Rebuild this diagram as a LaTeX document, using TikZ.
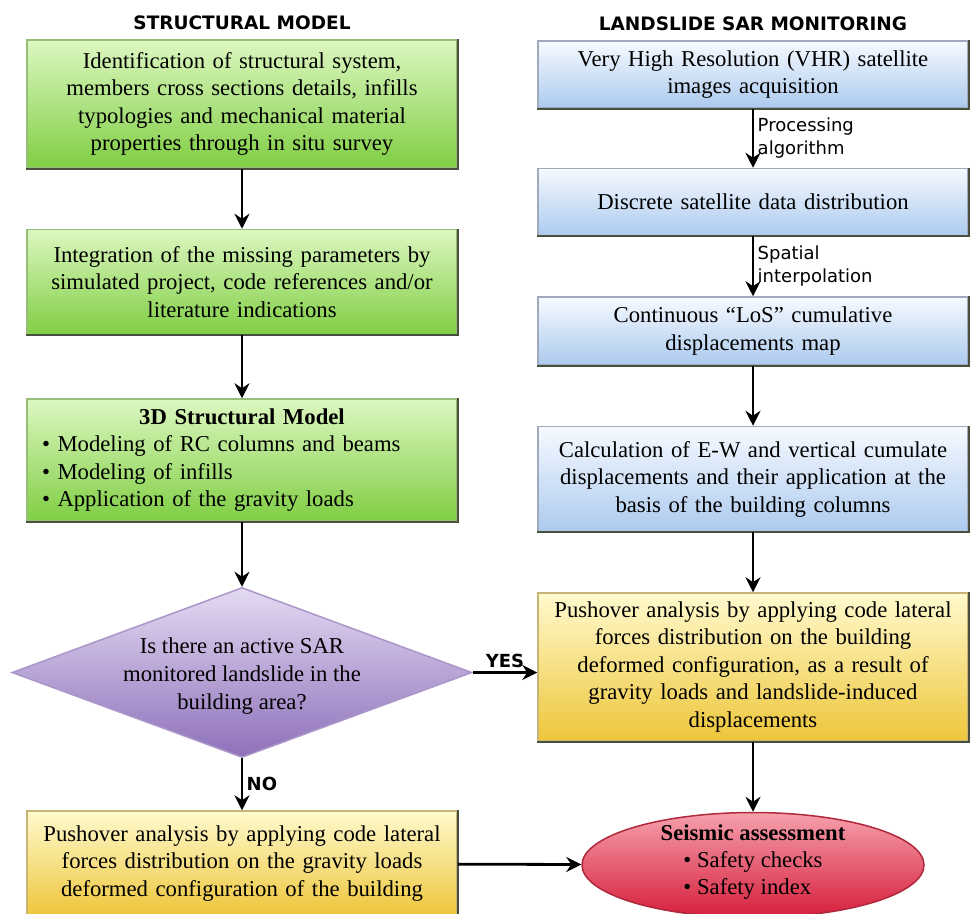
\documentclass[tikz,border=0pt]{standalone}
\usepackage{fontspec}
\setmainfont{Liberation Serif}
\newfontfamily\labelfont{DejaVu Sans}
\usepackage{xcolor}
\usetikzlibrary{shapes.geometric, arrows.meta, positioning}
\tikzstyle{arrow} = [line width=2.8pt,->,>={Stealth[length=15pt,width=15pt,inset=5pt]}]

\definecolor{grnTop}{RGB}{220,247,192}
\definecolor{grnBot}{RGB}{128,206,68}
\definecolor{grnLine}{RGB}{150,190,120}
\definecolor{bluTop}{RGB}{246,250,255}
\definecolor{bluBot}{RGB}{172,202,238}
\definecolor{bluLine}{RGB}{160,170,190}
\definecolor{ylwTop}{RGB}{255,250,206}
\definecolor{ylwBot}{RGB}{238,198,58}
\definecolor{ylwLine}{RGB}{200,180,120}
\definecolor{prpTop}{RGB}{228,218,242}
\definecolor{prpBot}{RGB}{142,112,186}
\definecolor{prpLine}{RGB}{170,150,200}
\definecolor{redTop}{RGB}{246,160,172}
\definecolor{redMid}{RGB}{234,76,100}
\definecolor{redBot}{RGB}{214,30,60}
\definecolor{redLine}{RGB}{176,40,60}
\definecolor{bevel}{RGB}{70,80,60}

\begin{document}
\begin{tikzpicture}[x=1pt, y=-1pt, node distance=60pt,
    box/.style={rectangle, minimum width=430pt, text width=420pt, align=center, inner sep=0pt, line width=1.5pt, font=\fontsize{22.7}{27.5}\selectfont},
    greenbox/.style={box, top color=grnTop, bottom color=grnBot, draw=grnLine},
    bluebox/.style={box, top color=bluTop, bottom color=bluBot, draw=bluLine},
    yellowbox/.style={box, top color=ylwTop, bottom color=ylwBot, draw=ylwLine},
    check/.style={diamond, aspect=2.7, minimum width=460pt, minimum height=170pt, inner sep=-6pt, align=center, line width=1.5pt, top color=prpTop, bottom color=prpBot, draw=prpLine, font=\fontsize{22.7}{28}\selectfont},
    assess/.style={ellipse, minimum width=342pt, minimum height=105pt, inner xsep=0pt, inner ysep=-8pt, align=center, line width=1.5pt, top color=redTop, middle color=redMid, bottom color=redBot, draw=redLine, font=\fontsize{22.7}{27}\selectfont},
    title/.style={font=\labelfont\bfseries\fontsize{18.5}{22}\selectfont},
    tag/.style={font=\labelfont\fontsize{18}{23}\selectfont, align=left},
    answer/.style={font=\labelfont\bfseries\fontsize{18}{22}\selectfont}]

    \useasboundingbox (0,0) rectangle (971,913);

    % Structural model
    \node[greenbox, minimum height=128pt] (survey) at (242,104) {Identification of structural system,\\members cross sections details, infills\\typologies and mechanical material\\properties through in situ survey};
    \node[greenbox, minimum height=105pt, below=of survey] (missing) {Integration of the missing parameters by\\simulated project, code references and/or\\literature indications};
    \node[greenbox, minimum height=122pt, text width=400pt, align=left, below=63pt of missing] (model) {\hspace*{\fill}\textbf{3D Structural Model}\hspace*{\fill}\mbox{}\\\textbullet\ Modeling of RC columns and beams\\\textbullet\ Modeling of infills\\\textbullet\ Application of the gravity loads};
    \node[check, below=65pt of model] (sar) {\parbox{270pt}{\vspace*{8pt}\centering Is there an active SAR\\monitored landslide in the\\building area?}};
    \node[yellowbox, minimum height=105pt, below=52pt of sar] (pushgrav) {Pushover analysis by applying code lateral\\forces distribution on the gravity loads\\deformed configuration of the building};
    \node[title, above=6pt of survey] (structitle) {STRUCTURAL MODEL};

    % Landslide SAR monitoring
    \node[bluebox, minimum height=67pt] (vhr) at (753,74.5) {Very High Resolution (VHR) satellite\\images acquisition};
    \node[bluebox, minimum height=67pt, below=59pt of vhr] (discrete) {Discrete satellite data distribution};
    \node[bluebox, minimum height=68pt, below=of discrete] (los) {Continuous “LoS” cumulative\\displacements map};
    \node[bluebox, minimum height=105pt, below=of los] (calc) {Calculation of E-W and vertical cumulate\\displacements and their application at the\\basis of the building columns};
    \node[yellowbox, minimum height=148pt, below=of calc] (pushland) {Pushover analysis by applying code lateral\\forces distribution on the building\\deformed configuration, as a result of\\gravity loads and landslide-induced\\displacements};
    \node[assess, below=70pt of pushland] (seismic) {\parbox{200pt}{\centering\textbf{Seismic assessment}\\\textbullet\ Safety checks\\\textbullet\ Safety index\phantom{n}\par\vspace*{6pt}}};
    \node[title, above=6pt of vhr] (sartitle) {LANDSLIDE SAR MONITORING};

    % bevelled edges
    \foreach \b in {survey,missing,model,pushgrav,vhr,discrete,los,calc,pushland}
        \draw[bevel, line width=2pt] (\b.north east) -- (\b.south east) -- (\b.south west);

    % Arrows
    \draw[arrow] (survey) -- (missing);
    \draw[arrow] (missing) -- (model);
    \draw[arrow] (model) -- (sar);
    \draw[arrow] (sar) -- node[answer, right] {NO} (pushgrav);
    \draw[arrow] (sar.east) -- node[answer, above] {YES} (sar.east -| pushland.west);
    \draw[arrow] (pushgrav) -- (seismic);
    \draw[arrow] (vhr) -- node[tag, right] {Processing\\algorithm} (discrete);
    \draw[arrow] (discrete) -- node[tag, right] {Spatial\\interpolation} (los);
    \draw[arrow] (los) -- (calc);
    \draw[arrow] (calc) -- (pushland);
    \draw[arrow] (pushland) -- (seismic);
\end{tikzpicture}
\end{document}
